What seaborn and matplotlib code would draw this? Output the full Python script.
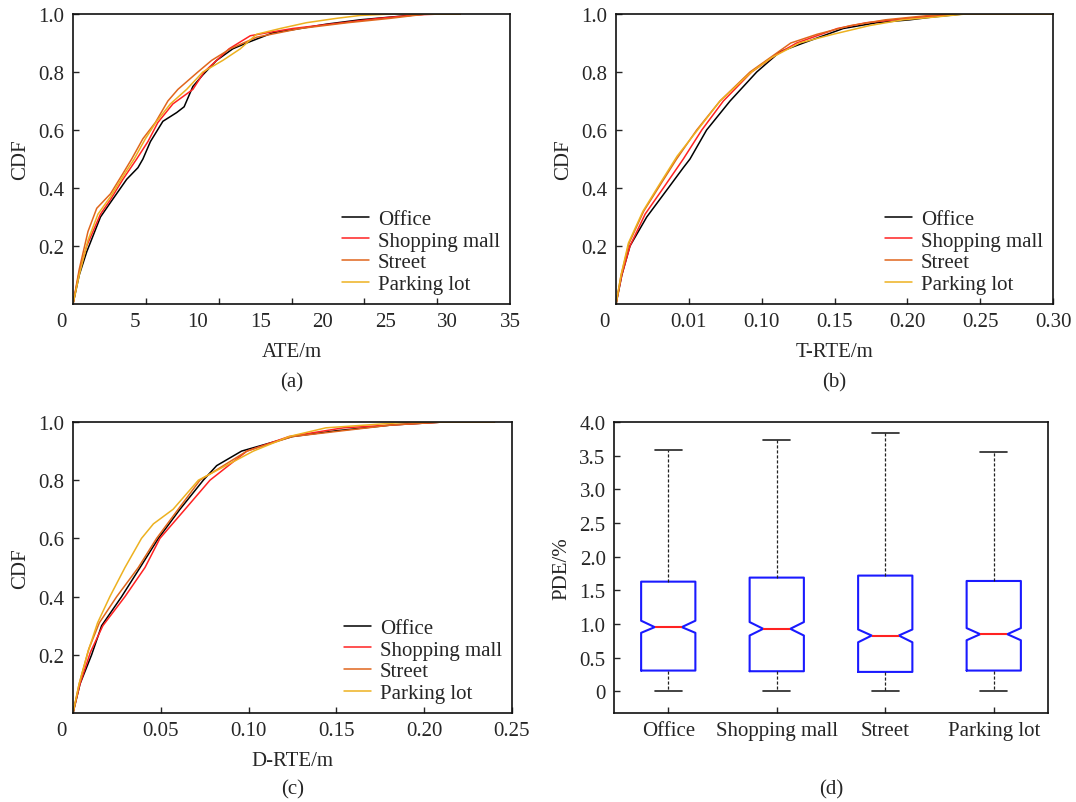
import matplotlib
matplotlib.use("Agg")
import matplotlib.pyplot as plt
import matplotlib.transforms as mtransforms
import seaborn as sns

# scenes and colours (MATLAB-ish)
scenes = ["Office", "Shopping mall", "Street", "Parking lot"]
colors = ["#000000", "#ff2222", "#e0661c", "#edb120"]

# (a) ATE/m  -- CDF points
ate_office_x = [0, 0.5, 1.1, 2.2, 3.0, 4.3, 5.2, 5.6, 6.2, 7.2, 8.3, 8.9, 9.6, 10.4, 11.5, 12.8, 13.9, 16.0, 18.2, 20.3, 23.0, 25.6, 28.3, 31.0]
ate_office_y = [0, 0.10, 0.18, 0.30, 0.35, 0.43, 0.47, 0.50, 0.56, 0.63, 0.66, 0.68, 0.75, 0.79, 0.84, 0.88, 0.90, 0.935, 0.95, 0.965, 0.98, 0.99, 1.0, 1.0]
ate_mall_x = [0, 0.5, 1.1, 2.2, 3.0, 4.0, 5.1, 6.0, 6.8, 8.0, 9.6, 10.5, 11.5, 12.5, 14.2, 15.5, 17.6, 21.6, 24.5, 27.5, 29.5, 31.0]
ate_mall_y = [0, 0.11, 0.20, 0.31, 0.36, 0.43, 0.50, 0.56, 0.626, 0.69, 0.74, 0.80, 0.84, 0.88, 0.925, 0.935, 0.95, 0.97, 0.985, 0.997, 1.0, 1.0]
ate_street_x = [0, 0.5, 1.2, 1.9, 3.0, 4.0, 4.7, 5.6, 6.6, 7.6, 8.4, 10.0, 11.1, 12.6, 14.7, 18.2, 22.0, 25.4, 28.3, 31.0]
ate_street_y = [0, 0.12, 0.25, 0.33, 0.38, 0.45, 0.50, 0.57, 0.626, 0.70, 0.74, 0.80, 0.84, 0.88, 0.92, 0.95, 0.97, 0.985, 1.0, 1.0]
ate_park_x = [0, 0.5, 1.2, 2.0, 3.0, 4.0, 4.9, 5.8, 6.7, 7.8, 9.1, 10.4, 12.0, 13.4, 14.7, 16.6, 18.7, 21.1, 23.0, 25.6, 31.0]
ate_park_y = [0, 0.10, 0.22, 0.31, 0.37, 0.44, 0.50, 0.57, 0.63, 0.69, 0.74, 0.80, 0.84, 0.88, 0.93, 0.95, 0.97, 0.985, 0.995, 1.0, 1.0]

# (b) T-RTE/m
trte_office_x = [0, 0.0040, 0.0096, 0.0211, 0.0359, 0.0462, 0.0508, 0.0622, 0.0783, 0.0966, 0.1126, 0.1286, 0.156, 0.179, 0.2018, 0.2178, 0.2384, 0.30]
trte_office_y = [0, 0.10, 0.20, 0.30, 0.40, 0.47, 0.50, 0.60, 0.70, 0.80, 0.87, 0.90, 0.95, 0.97, 0.98, 0.99, 1.0, 1.0]
trte_mall_x = [0, 0.0040, 0.0096, 0.0200, 0.0325, 0.0462, 0.0589, 0.0737, 0.0931, 0.1100, 0.124, 0.152, 0.172, 0.200, 0.235, 0.30]
trte_mall_y = [0, 0.10, 0.20, 0.31, 0.40, 0.50, 0.60, 0.70, 0.80, 0.86, 0.90, 0.95, 0.97, 0.985, 1.0, 1.0]
trte_street_x = [0, 0.0035, 0.0090, 0.0190, 0.0290, 0.0416, 0.0554, 0.0714, 0.092, 0.106, 0.120, 0.138, 0.161, 0.185, 0.215, 0.235, 0.30]
trte_street_y = [0, 0.10, 0.21, 0.32, 0.40, 0.50, 0.60, 0.70, 0.80, 0.85, 0.90, 0.93, 0.96, 0.98, 0.995, 1.0, 1.0]
trte_park_x = [0, 0.0035, 0.0085, 0.0185, 0.0295, 0.0420, 0.0560, 0.0714, 0.093, 0.107, 0.126, 0.149, 0.174, 0.197, 0.220, 0.240, 0.30]
trte_park_y = [0, 0.10, 0.21, 0.32, 0.41, 0.51, 0.60, 0.70, 0.80, 0.85, 0.90, 0.93, 0.96, 0.98, 0.99, 1.0, 1.0]

# (c) D-RTE/m
drte_office_x = [0, 0.0040, 0.0106, 0.0163, 0.0277, 0.0382, 0.0486, 0.0609, 0.0742, 0.0818, 0.096, 0.125, 0.150, 0.182, 0.211, 0.24]
drte_office_y = [0, 0.10, 0.20, 0.30, 0.40, 0.50, 0.60, 0.70, 0.80, 0.85, 0.90, 0.95, 0.97, 0.99, 1.0, 1.0]
drte_mall_x = [0, 0.0040, 0.0100, 0.0170, 0.0296, 0.0410, 0.0495, 0.0638, 0.078, 0.099, 0.123, 0.154, 0.211, 0.24]
drte_mall_y = [0, 0.10, 0.21, 0.30, 0.40, 0.50, 0.60, 0.70, 0.80, 0.90, 0.95, 0.98, 1.0, 1.0]
drte_street_x = [0, 0.0035, 0.0090, 0.0150, 0.0249, 0.0372, 0.0476, 0.0599, 0.0723, 0.099, 0.125, 0.182, 0.211, 0.24]
drte_street_y = [0, 0.10, 0.22, 0.31, 0.40, 0.50, 0.60, 0.70, 0.80, 0.90, 0.95, 0.99, 1.0, 1.0]
drte_park_x = [0, 0.0035, 0.0085, 0.0140, 0.0210, 0.0296, 0.0390, 0.0458, 0.0570, 0.0714, 0.1027, 0.123, 0.144, 0.192, 0.24]
drte_park_y = [0, 0.10, 0.21, 0.31, 0.40, 0.50, 0.60, 0.65, 0.70, 0.80, 0.90, 0.95, 0.98, 1.0, 1.0]

# (d) PDE/% box statistics
pde_whislo = [0.0, 0.0, 0.0, 0.0]
pde_q1 = [0.31, 0.30, 0.29, 0.31]
pde_med = [0.955, 0.93, 0.83, 0.85]
pde_q3 = [1.63, 1.69, 1.72, 1.64]
pde_whishi = [3.58, 3.73, 3.84, 3.56]
pde_cilo = [0.87, 0.83, 0.73, 0.76]
pde_cihi = [1.05, 1.03, 0.92, 0.94]

sns.set_style("ticks")
plt.rcParams["font.family"] = ["Liberation Serif", "DejaVu Serif"]
plt.rcParams["font.size"] = 15
plt.rcParams["axes.linewidth"] = 1.2
plt.rcParams["xtick.direction"] = "in"
plt.rcParams["ytick.direction"] = "in"

W, H = 1076, 803
fig = plt.figure(figsize=(W / 100, H / 100), dpi=100)


def px_axes(left, top, right, bottom):
    return fig.add_axes([left / W, (H - bottom) / H, (right - left) / W, (bottom - top) / H])


ax_a = px_axes(73, 15, 510, 305)
ax_b = px_axes(616, 15, 1053, 305)
ax_c = px_axes(73, 423, 512, 714)
ax_d = px_axes(614, 423, 1048, 714)

cdf_panels = [
    (ax_a, [(ate_office_x, ate_office_y), (ate_mall_x, ate_mall_y), (ate_street_x, ate_street_y), (ate_park_x, ate_park_y)], "ATE/m", "(a)", 383),
    (ax_b, [(trte_office_x, trte_office_y), (trte_mall_x, trte_mall_y), (trte_street_x, trte_street_y), (trte_park_x, trte_park_y)], "T-RTE/m", "(b)", 383),
    (ax_c, [(drte_office_x, drte_office_y), (drte_mall_x, drte_mall_y), (drte_street_x, drte_street_y), (drte_park_x, drte_park_y)], "D-RTE/m", "(c)", 790),
]

shift_left = mtransforms.ScaledTranslation(-12 / 100, 0, fig.dpi_scale_trans)

for ax, curves, xlab, cap, cap_y in cdf_panels:
    for (xs, ys), name, c in zip(curves, scenes, colors):
        sns.lineplot(x=xs, y=ys, ax=ax, color=c, label=name, lw=1.1, estimator=None, sort=False)
    ax.set_ylim(0, 1)
    ax.set_yticks([0.2, 0.4, 0.6, 0.8, 1.0])
    ax.set_yticklabels(["0.2", "0.4", "0.6", "0.8", "1.0"])
    ax.set_ylabel("CDF", labelpad=6)
    ax.set_xlabel(xlab, labelpad=8)
    ax.tick_params(length=4, width=1, pad=6)
    ax.legend(loc="lower right", frameon=False, fontsize=15, handlelength=1.3,
              handletextpad=0.45, labelspacing=0.1, borderaxespad=0.08)
    bb = ax.get_position()
    fig.text((bb.x0 + bb.x1) / 2, 1 - cap_y / H, cap, ha="center", va="center", fontsize=15)

# (a): labels 0..35 but tick marks split the frame in six
ax_a.set_xlim(0, 35)
ax_a.set_xticks([0, 5, 10, 15, 20, 25, 30, 35])
ax_a.set_xticklabels(["0", "5", "10", "15", "20", "25", "30", "35"])
ax_a.tick_params(axis="x", which="major", length=0)
ax_a.set_xticks([35 / 6 * k for k in range(1, 6)], minor=True)
ax_a.tick_params(axis="x", which="minor", length=4, width=1, direction="in")

ax_b.set_xlim(0, 0.30)
ax_b.set_xticks([0, 0.05, 0.10, 0.15, 0.20, 0.25, 0.30])
ax_b.set_xticklabels(["0", "0.01", "0.10", "0.15", "0.20", "0.25", "0.30"])

ax_c.set_xlim(0, 0.25)
ax_c.set_xticks([0, 0.05, 0.10, 0.15, 0.20, 0.25])
ax_c.set_xticklabels(["0", "0.05", "0.10", "0.15", "0.20", "0.25"])

for ax in (ax_a, ax_b, ax_c):
    lab0 = ax.get_xticklabels()[0]
    lab0.set_transform(lab0.get_transform() + shift_left)

# (d) notched box plot from read-off statistics
stats = []
for i, name in enumerate(scenes):
    stats.append({"label": name, "whislo": pde_whislo[i], "q1": pde_q1[i], "med": pde_med[i],
                  "q3": pde_q3[i], "whishi": pde_whishi[i], "cilo": pde_cilo[i], "cihi": pde_cihi[i],
                  "fliers": []})
ax_d.bxp(stats, positions=range(4), widths=0.5, shownotches=True, showfliers=False,
         boxprops=dict(color="#1a1aff", lw=1.5),
         medianprops=dict(color="#ff2222", lw=1.5),
         whiskerprops=dict(color="#222222", ls=(0, (2.5, 1.5)), lw=0.9),
         capprops=dict(color="#222222", lw=1.2))
ax_d.set_xlim(-0.5, 3.5)
ax_d.set_ylim(-0.32, 4.0)
ax_d.set_yticks([0, 0.5, 1.0, 1.5, 2.0, 2.5, 3.0, 3.5, 4.0])
ax_d.set_yticklabels(["0", "0.5", "1.0", "1.5", "2.0", "2.5", "3.0", "3.5", "4.0"])
ax_d.set_ylabel("PDE/%", labelpad=6)
ax_d.tick_params(length=4, width=1, pad=6)
bb = ax_d.get_position()
fig.text((bb.x0 + bb.x1) / 2, 1 - 790 / H, "(d)", ha="center", va="center", fontsize=15)

for ax in (ax_a, ax_b, ax_c, ax_d):
    for s in ax.spines.values():
        s.set_visible(True)
        s.set_linewidth(1.2)
        s.set_color("#111111")

fig.savefig("out.png", dpi=100)
